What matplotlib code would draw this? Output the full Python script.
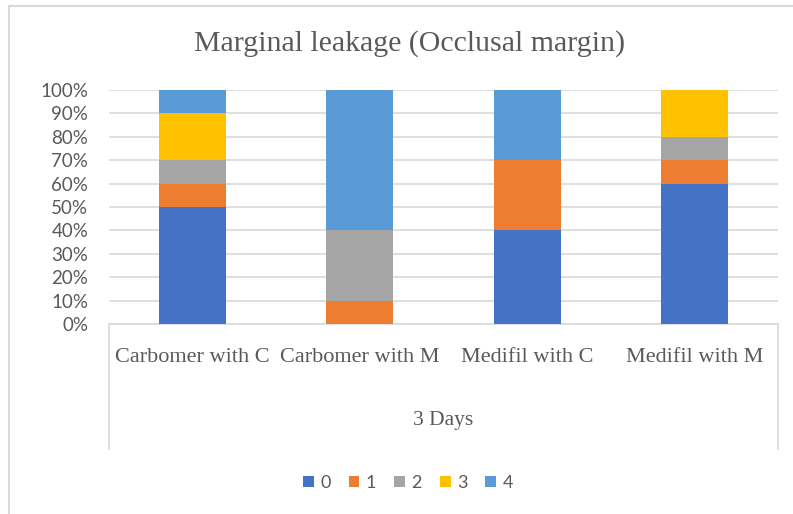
import matplotlib
matplotlib.use('Agg')
import matplotlib.pyplot as plt
from matplotlib.lines import Line2D
from matplotlib.patches import Patch
from matplotlib.transforms import blended_transform_factory
import numpy as np

# data
categories = ['Carbomer with C', 'Carbomer with M', 'Medifil with C', 'Medifil with M']
group_label = '3 Days'
scores = ['0', '1', '2', '3', '4']
score_0 = [50, 0, 40, 60]
score_1 = [10, 10, 30, 10]
score_2 = [10, 30, 0, 10]
score_3 = [20, 0, 0, 20]
score_4 = [10, 60, 30, 0]
series = [score_0, score_1, score_2, score_3, score_4]
colors = ['#4472C4', '#ED7D31', '#A5A5A5', '#FFC000', '#5B9BD5']

W, H = 793, 514
TEXT = '#595959'
GRID = '#D9D9D9'
SERIF = 'Liberation Serif'
SANS = 'Lato'


def fx(px):
    return px / W


def fy(py):
    return 1 - py / H


fig = plt.figure(figsize=(W / 100, H / 100), dpi=100)
fig.patch.set_facecolor('white')

left, right, top, bottom = 109, 778, 90, 324
ax = fig.add_axes([fx(left), fy(bottom), fx(right - left), (bottom - top) / H])

x = np.arange(len(categories))
base = np.zeros(len(categories))
for vals, col in zip(series, colors):
    vals = np.array(vals, dtype=float)
    ax.bar(x, vals, width=0.4, bottom=base, color=col, zorder=3)
    base += vals

ax.set_xlim(-0.5, len(categories) - 0.5)
ax.set_ylim(0, 100)
ax.set_yticks(range(0, 101, 10))
ax.set_yticklabels(['{}%'.format(v) for v in range(0, 101, 10)],
                   fontfamily=SANS, fontsize=13.5, color=TEXT)
ax.tick_params(axis='y', length=0, pad=15)
ax.tick_params(axis='x', length=0)
ax.set_xticks([])
ax.grid(axis='y', color=GRID, linewidth=1.2, zorder=0)
for side in ['top', 'right', 'left']:
    ax.spines[side].set_visible(False)
ax.spines['bottom'].set_color(GRID)
ax.spines['bottom'].set_linewidth(1.2)

# category labels and group box
trans = blended_transform_factory(ax.transData, fig.transFigure)
for i, cat in enumerate(categories):
    ax.text(i, fy(358), cat, transform=trans, ha='center', va='center',
            fontfamily=SERIF, fontsize=16, color=TEXT)
fig.text(fx((left + right) / 2), fy(421), group_label, ha='center', va='center',
         fontfamily=SERIF, fontsize=15.5, color=TEXT)
for px in (left, right):
    fig.add_artist(Line2D([fx(px), fx(px)], [fy(bottom), fy(449)], color=GRID, linewidth=1.2))

# chart border
fig.add_artist(Line2D([fx(9), fx(9)], [fy(6), 0], color=GRID, linewidth=1.5))
fig.add_artist(Line2D([fx(9), 1], [fy(6), fy(6)], color=GRID, linewidth=1.5))

fig.text(fx(410), fy(44), 'Marginal leakage (Occlusal margin)', ha='center', va='center',
         fontfamily=SERIF, fontsize=21.5, color=TEXT)

handles = [Patch(facecolor=c, label=s) for c, s in zip(colors, scores)]
fig.legend(handles=handles, loc='center', bbox_to_anchor=(fx(408), fy(483)), ncol=5,
           frameon=False, handlelength=0.6, handleheight=0.6, handletextpad=0.35,
           columnspacing=1.0, prop={'family': SANS, 'size': 13}, labelcolor=TEXT)

fig.savefig('out.png', dpi=100, facecolor='white')
